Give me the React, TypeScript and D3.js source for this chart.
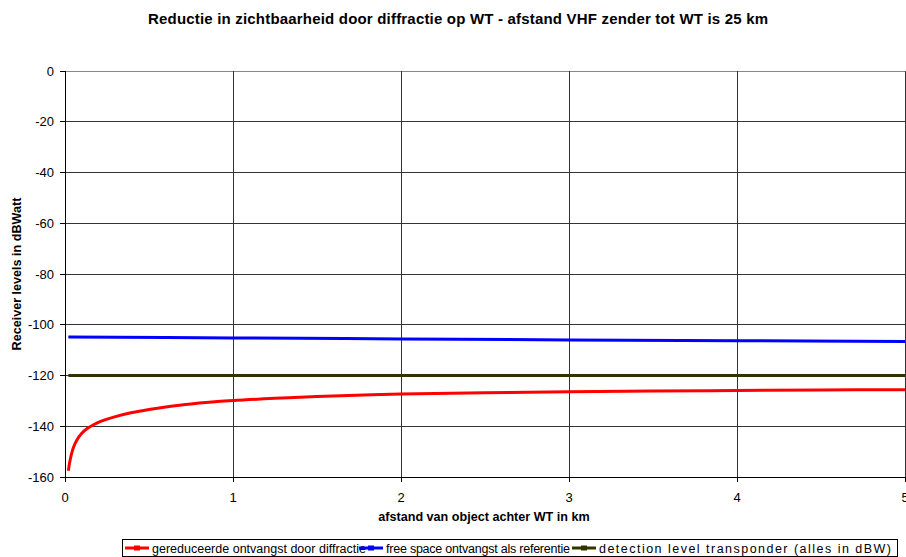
import React from "react";
import * as d3 from "d3";

const title = "Reductie in zichtbaarheid door diffractie op WT - afstand VHF zender tot WT is 25 km";
const xTitle = "afstand van object achter WT in km";
const yTitle = "Receiver levels in dBWatt";

const redX = [0.02, 0.03, 0.04, 0.05, 0.07, 0.1, 0.13, 0.17, 0.22, 0.3, 0.4, 0.5, 0.6, 0.75, 1.0, 1.25, 1.5, 2.0, 2.5, 3.0, 3.5, 4.0, 4.5, 5.0];
const redY = [-157.5, -153.5, -150.6, -148.4, -145.5, -142.8, -141.0, -139.4, -137.9, -136.2, -134.6, -133.4, -132.4, -131.2, -129.9, -129.0, -128.3, -127.3, -126.8, -126.4, -126.1, -125.9, -125.7, -125.6];
const blueX = [0.02, 1, 2, 3, 4, 5];
const blueY = [-104.8, -105.2, -105.6, -106.0, -106.3, -106.6];
const olivX = [0.02, 5];
const olivY = [-120, -120];

const xTicks = [0, 1, 2, 3, 4, 5];
const yTicks = [0, -20, -40, -60, -80, -100, -120, -140, -160];

const legendNames = [
  "gereduceerde ontvangst door diffractie",
  "free space ontvangst als referentie",
  "detection level transponder (alles in dBW)",
];
const colors = ["#ff0000", "#0000ff", "#333300"];

export default function App() {
  const W = 906, H = 557;
  const left = 65, right = 905, top = 71, bottom = 477;
  const x = d3.scaleLinear().domain([0, 5]).range([left, right]);
  const y = d3.scaleLinear().domain([-160, 0]).range([bottom, top]);
  const series = [
    { xs: redX, ys: redY },
    { xs: blueX, ys: blueY },
    { xs: olivX, ys: olivY },
  ];
  const line = d3
    .line<[number, number]>()
    .x((d) => x(d[0]))
    .y((d) => y(d[1]))
    .curve(d3.curveCatmullRom.alpha(0.5));
  const font = "Arial, 'Liberation Sans', sans-serif";
  const legendPos = [
    { lx: 125, tx: 152, len: 214 },
    { lx: 359, tx: 386, len: 184 },
    { lx: 572, tx: 599, len: 292 },
  ];
  return (
    <svg width={W} height={H} style={{ position: "absolute", left: 0, top: 0 }} fontFamily={font}>
      <rect x={0} y={0} width={W} height={H} fill="#fff" />
      <text x={458} y={24} textAnchor="middle" fontSize={15} fontWeight="bold" textLength={620}>{title}</text>
      {yTicks.map((t) => (
        <g key={"y" + t}>
          <line x1={left} x2={right} y1={y(t)} y2={y(t)} stroke={t === 0 ? "#888" : "#333"} strokeWidth={1} shapeRendering="crispEdges" />
          <line x1={left - 5} x2={left} y1={y(t)} y2={y(t)} stroke="#000" shapeRendering="crispEdges" />
          <text x={54} y={y(t) + 4.5} textAnchor="end" fontSize={13}>{t}</text>
        </g>
      ))}
      {xTicks.map((t) => (
        <g key={"x" + t}>
          {t > 0 && <line x1={x(t)} x2={x(t)} y1={top} y2={bottom} stroke="#333" shapeRendering="crispEdges" />}
          <line x1={x(t)} x2={x(t)} y1={bottom} y2={bottom + 5} stroke="#000" shapeRendering="crispEdges" />
          <text x={x(t)} y={502} textAnchor="middle" fontSize={13}>{t}</text>
        </g>
      ))}
      <line x1={left} x2={left} y1={top} y2={bottom + 5} stroke="#000" shapeRendering="crispEdges" />
      <line x1={left - 5} x2={right} y1={bottom} y2={bottom} stroke="#000" shapeRendering="crispEdges" />
      {series.map((s, i) => (
        <path key={i} d={line(s.xs.map((v, j) => [v, s.ys[j]] as [number, number])) || ""} fill="none" stroke={colors[i]} strokeWidth={3} />
      ))}
      <text x={484} y={521} textAnchor="middle" fontSize={12.6} fontWeight="bold">{xTitle}</text>
      <text transform={`translate(21,${274}) rotate(-90)`} textAnchor="middle" fontSize={12.6} fontWeight="bold">{yTitle}</text>
      <rect x={122.5} y={539.5} width={775} height={17} fill="#fff" stroke="#000" />
      {legendNames.map((n, i) => (
        <g key={n}>
          <line x1={legendPos[i].lx} x2={legendPos[i].lx + 24} y1={548} y2={548} stroke={colors[i]} strokeWidth={3} />
          <line x1={legendPos[i].lx + 9} x2={legendPos[i].lx + 15} y1={548} y2={548} stroke={colors[i]} strokeWidth={5} />
          <text x={legendPos[i].tx} y={552.5} fontSize={12.5} textLength={legendPos[i].len}>{n}</text>
        </g>
      ))}
    </svg>
  );
}
